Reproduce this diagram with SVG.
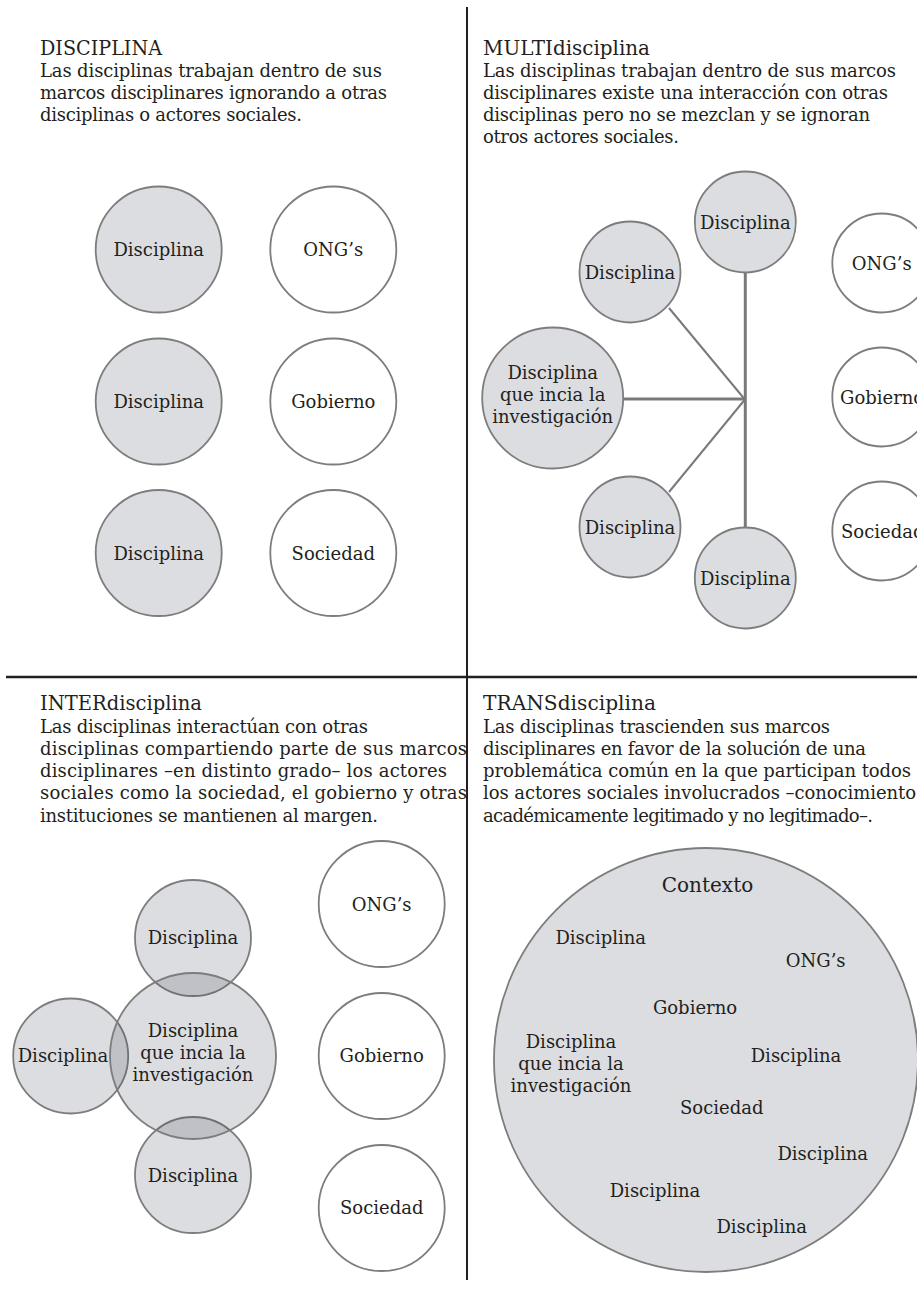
<svg xmlns="http://www.w3.org/2000/svg" width="917" height="1289" viewBox="0 0 917 1289">
<style>
text{font-family:"DejaVu Serif","Liberation Serif",serif;fill:#231f20;}
.t{font-size:19.5px;}
.b{font-size:18px;}
.l{font-size:18px;text-anchor:middle;}
.ctx{font-size:20px;text-anchor:middle;}
.g{fill:#32384a;fill-opacity:0.171;stroke:#7d7d7d;stroke-width:1.8;}
.w{fill:#ffffff;stroke:#7d7d7d;stroke-width:1.8;}
.k{stroke:#7a7a7a;stroke-width:3;fill:none;}
.kd{stroke:#7a7a7a;stroke-width:2;fill:none;}
.div{stroke:#231f20;fill:none;}
</style>
<rect width="917" height="1289" fill="#ffffff"/>

<g id="dividers">
<line class="div" x1="467" y1="7" x2="467" y2="1280" stroke-width="2"/>
<line class="div" x1="6" y1="677" x2="917" y2="677" stroke-width="2.5"/>
</g>

<!-- Headers -->
<g id="hdr-disciplina">
<text class="t" x="40" y="55" textLength="122" lengthAdjust="spacingAndGlyphs">DISCIPLINA</text>
<text class="b" x="40" y="77" textLength="342" lengthAdjust="spacing">Las disciplinas trabajan dentro de sus</text>
<text class="b" x="40" y="99" textLength="347" lengthAdjust="spacing">marcos disciplinares ignorando a otras</text>
<text class="b" x="40" y="121" textLength="262" lengthAdjust="spacing">disciplinas o actores sociales.</text>
</g>
<g id="hdr-multi">
<text class="t" x="483" y="55" textLength="167" lengthAdjust="spacingAndGlyphs">MULTIdisciplina</text>
<text class="b" x="483" y="77" textLength="413" lengthAdjust="spacing">Las disciplinas trabajan dentro de sus marcos</text>
<text class="b" x="483" y="99" textLength="405" lengthAdjust="spacing">disciplinares existe una interacción con otras</text>
<text class="b" x="483" y="121" textLength="387" lengthAdjust="spacing">disciplinas pero no se mezclan y se ignoran</text>
<text class="b" x="483" y="143" textLength="196" lengthAdjust="spacing">otros actores sociales.</text>
</g>
<g id="hdr-inter">
<text class="t" x="40" y="710" textLength="162" lengthAdjust="spacingAndGlyphs">INTERdisciplina</text>
<text class="b" x="40" y="732.5" textLength="328" lengthAdjust="spacing">Las disciplinas interactúan con otras</text>
<text class="b" x="40" y="755" textLength="427" lengthAdjust="spacing">disciplinas compartiendo parte de sus marcos</text>
<text class="b" x="40" y="777" textLength="407" lengthAdjust="spacing">disciplinares –en distinto grado– los actores</text>
<text class="b" x="40" y="799" textLength="427" lengthAdjust="spacing">sociales como la sociedad, el gobierno y otras</text>
<text class="b" x="40" y="821.5" textLength="338" lengthAdjust="spacing">instituciones se mantienen al margen.</text>
</g>
<g id="hdr-trans">
<text class="t" x="483" y="710" textLength="173" lengthAdjust="spacingAndGlyphs">TRANSdisciplina</text>
<text class="b" x="483" y="732.5" textLength="347" lengthAdjust="spacing">Las disciplinas trascienden sus marcos</text>
<text class="b" x="483" y="755" textLength="383" lengthAdjust="spacing">disciplinares en favor de la solución de una</text>
<text class="b" x="483" y="777" textLength="428" lengthAdjust="spacing">problemática común en la que participan todos</text>
<text class="b" x="483" y="799" textLength="433" lengthAdjust="spacing">los actores sociales involucrados –conocimiento</text>
<text class="b" x="483" y="821.5" textLength="390" lengthAdjust="spacing">académicamente legitimado y no legitimado–.</text>
</g>

<!-- Quadrant 1: DISCIPLINA -->
<g id="q1-disc1"><circle class="g" cx="158.7" cy="249.5" r="63"/><text class="l" x="158.7" y="256">Disciplina</text></g>
<g id="q1-disc2"><circle class="g" cx="158.7" cy="401.5" r="63"/><text class="l" x="158.7" y="408">Disciplina</text></g>
<g id="q1-disc3"><circle class="g" cx="158.7" cy="553" r="63"/><text class="l" x="158.7" y="559.5">Disciplina</text></g>
<g id="q1-ong"><circle class="w" cx="333.3" cy="249.5" r="63"/><text class="l" x="333.3" y="256">ONG’s</text></g>
<g id="q1-gob"><circle class="w" cx="333.3" cy="401.5" r="63"/><text class="l" x="333.3" y="408">Gobierno</text></g>
<g id="q1-soc"><circle class="w" cx="333.3" cy="553" r="63"/><text class="l" x="333.3" y="559.5">Sociedad</text></g>

<!-- Quadrant 2: MULTI -->
<g id="q2-connectors">
<line class="k" x1="745.3" y1="272" x2="745.3" y2="527"/>
<line class="k" x1="623" y1="399" x2="745.3" y2="399"/>
<line class="kd" x1="669" y1="308" x2="744.5" y2="399"/>
<line class="kd" x1="744.5" y1="400" x2="669" y2="492"/>
</g>
<g id="q2-disc-top"><circle class="g" cx="745.3" cy="222" r="50.5"/><text class="l" x="745.3" y="228.5">Disciplina</text></g>
<g id="q2-disc-ul"><circle class="g" cx="630" cy="272" r="50.5"/><text class="l" x="630" y="278.5">Disciplina</text></g>
<g id="q2-main"><circle class="g" cx="552.7" cy="398" r="70.5"/>
<text class="l" x="552.7" y="379">Disciplina</text>
<text class="l" x="552.7" y="401">que incia la</text>
<text class="l" x="552.7" y="423">investigación</text></g>
<g id="q2-disc-ll"><circle class="g" cx="630" cy="527" r="50.5"/><text class="l" x="630" y="533.5">Disciplina</text></g>
<g id="q2-disc-bot"><circle class="g" cx="745.3" cy="578" r="50.5"/><text class="l" x="745.3" y="584.5">Disciplina</text></g>
<g id="q2-ong"><circle class="w" cx="881.8" cy="263" r="49.5"/><text class="l" x="881.8" y="269.5">ONG’s</text></g>
<g id="q2-gob"><circle class="w" cx="881.8" cy="397" r="49.5"/><text class="b" x="840" y="403.5">Gobierno</text></g>
<g id="q2-soc"><circle class="w" cx="881.8" cy="531" r="49.5"/><text class="b" x="841" y="537.5">Sociedad</text></g>

<!-- Quadrant 3: INTER -->
<g id="q3-disc-top"><circle class="g" cx="193" cy="938" r="58"/><text class="l" x="193" y="943.5">Disciplina</text></g>
<g id="q3-disc-bot"><circle class="g" cx="193" cy="1175" r="58"/><text class="l" x="193" y="1181.5">Disciplina</text></g>
<g id="q3-disc-left"><circle class="g" cx="70.7" cy="1056" r="57.5"/><text class="l" x="63" y="1061.7">Disciplina</text></g>
<g id="q3-main"><circle class="g" cx="193" cy="1056" r="83"/>
<text class="l" x="193" y="1036.7">Disciplina</text>
<text class="l" x="193" y="1058.5">que incia la</text>
<text class="l" x="193" y="1080.7">investigación</text></g>
<g id="q3-ong"><circle class="w" cx="381.7" cy="904" r="63"/><text class="l" x="381.7" y="910.5">ONG’s</text></g>
<g id="q3-gob"><circle class="w" cx="381.7" cy="1056" r="63"/><text class="l" x="381.7" y="1062">Gobierno</text></g>
<g id="q3-soc"><circle class="w" cx="381.7" cy="1208" r="63"/><text class="l" x="381.7" y="1213.5">Sociedad</text></g>

<!-- Quadrant 4: TRANS -->
<g id="q4-contexto"><circle class="g" cx="706" cy="1060" r="212"/>
<text class="ctx" x="707.5" y="892">Contexto</text></g>
<g id="q4-labels">
<text class="l" x="600.7" y="943.5">Disciplina</text>
<text class="l" x="815.7" y="967">ONG’s</text>
<text class="l" x="695" y="1013.5">Gobierno</text>
<text class="l" x="571" y="1047.5">Disciplina</text>
<text class="l" x="571" y="1070">que incia la</text>
<text class="l" x="571" y="1092">investigación</text>
<text class="l" x="796" y="1062">Disciplina</text>
<text class="l" x="721.7" y="1113.5">Sociedad</text>
<text class="l" x="822.7" y="1160">Disciplina</text>
<text class="l" x="655" y="1196.7">Disciplina</text>
<text class="l" x="761.7" y="1232.7">Disciplina</text>
</g>
</svg>
